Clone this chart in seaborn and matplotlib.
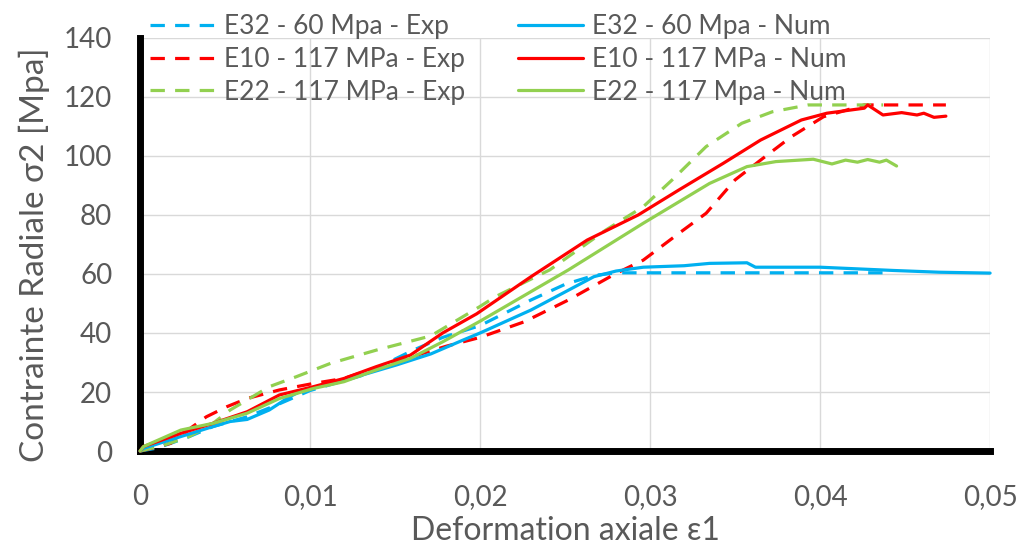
import matplotlib
matplotlib.use("Agg")
import matplotlib.pyplot as plt
import seaborn as sns

# E32 - 60 MPa
e32_exp_x = [0, 0.0010, 0.0018, 0.0029, 0.0043, 0.0063, 0.0080, 0.0100, 0.0130, 0.0160, 0.0178,
             0.0200, 0.0230, 0.0250, 0.0267, 0.0280, 0.0441]
e32_exp_y = [0, 1.0, 2.6, 4.9, 8.3, 11.6, 15.5, 20.5, 25.5, 34.0, 38.5,
             42.5, 51.2, 56.5, 59.5, 60.4, 60.4]
e32_num_x = [0, 0.0002, 0.0024, 0.0043, 0.0053, 0.0063, 0.0076, 0.0088, 0.0096, 0.0112, 0.0131,
             0.0151, 0.0171, 0.0190, 0.0200, 0.0230, 0.0267, 0.0280, 0.0296, 0.0320, 0.0335,
             0.0357, 0.0362, 0.0400, 0.0443, 0.0470, 0.0500]
e32_num_y = [0, 0.9, 4.9, 8.3, 10.0, 10.7, 13.9, 18.4, 20.7, 22.9, 25.8,
             29.2, 32.9, 37.6, 40.0, 47.8, 59.1, 61.0, 62.3, 62.8, 63.6,
             63.8, 62.3, 62.3, 61.2, 60.6, 60.3]

# E10 - 117 MPa
e10_exp_x = [0, 0.0018, 0.0031, 0.0039, 0.0051, 0.0063, 0.0082, 0.0102, 0.0120, 0.0140, 0.0163,
             0.0180, 0.0200, 0.0226, 0.0252, 0.0280, 0.0296, 0.0317, 0.0333, 0.0350, 0.0365,
             0.0383, 0.0402, 0.0426, 0.0474]
e10_exp_y = [0, 2.6, 8.3, 11.6, 15.0, 17.8, 20.7, 22.9, 24.6, 28.5, 32.5,
             35.5, 38.5, 43.8, 51.2, 60.2, 64.7, 73.8, 80.6, 91.9, 98.6,
             106.5, 113.3, 117.3, 117.3]
e10_num_x = [0, 0.0002, 0.0024, 0.0043, 0.0063, 0.0082, 0.0102, 0.0120, 0.0139, 0.0159, 0.0178,
             0.0198, 0.0230, 0.0263, 0.0293, 0.0317, 0.0343, 0.0365, 0.0389, 0.0404, 0.0426,
             0.0428, 0.0437, 0.0448, 0.0457, 0.0461, 0.0467, 0.0474]
e10_num_y = [0, 1.5, 6.0, 9.4, 13.3, 19.0, 21.8, 24.6, 28.6, 32.5, 40.0,
             46.5, 59.1, 71.5, 80.0, 88.5, 97.5, 105.4, 112.2, 114.5, 116.2,
             117.3, 113.9, 114.7, 113.9, 114.5, 113.1, 113.5]

# E22 - 117 MPa
e22_exp_x = [0, 0.0014, 0.0029, 0.0043, 0.0053, 0.0063, 0.0076, 0.0092, 0.0112, 0.0139, 0.0171,
             0.0200, 0.0209, 0.0241, 0.0274, 0.0296, 0.0313, 0.0333, 0.0354, 0.0372, 0.0393,
             0.0437]
e22_exp_y = [0, 2.0, 4.9, 9.4, 13.9, 17.3, 21.8, 25.2, 29.7, 34.2, 39.0,
             49.0, 52.3, 61.4, 74.9, 82.8, 91.9, 103.2, 111.1, 115.0, 117.3,
             117.3]
e22_num_x = [0, 0.0002, 0.0024, 0.0043, 0.0063, 0.0082, 0.0102, 0.0120, 0.0139, 0.0159, 0.0178,
             0.0200, 0.0252, 0.0296, 0.0335, 0.0357, 0.0374, 0.0396, 0.0407, 0.0415, 0.0422,
             0.0428, 0.0435, 0.0439, 0.0445]
e22_num_y = [0, 1.5, 7.1, 9.4, 12.8, 17.8, 21.2, 23.5, 27.5, 31.4, 37.0,
             44.0, 61.4, 77.2, 90.7, 96.4, 98.1, 98.9, 97.3, 98.6, 97.9,
             98.8, 97.9, 98.6, 96.6]

x_ticks = [0, 0.01, 0.02, 0.03, 0.04, 0.05]
x_tick_labels = ["0", "0,01", "0,02", "0,03", "0,04", "0,05"]
y_ticks = [0, 20, 40, 60, 80, 100, 120, 140]

BLUE, RED, GREEN = "#00b0f0", "#ff0000", "#92d050"
TEXT = "#595959"

sns.set_theme(style="white")
plt.rcParams["font.family"] = ["Lato", "DejaVu Sans"]

fig = plt.figure(figsize=(10.26, 5.48), dpi=100)
ax = fig.add_axes([0.1365, 0.177, 0.8285, 0.7537])

series = [
    (e32_exp_x, e32_exp_y, BLUE, True, "E32 - 60 Mpa - Exp"),
    (e10_exp_x, e10_exp_y, RED, True, "E10 - 117 MPa - Exp"),
    (e22_exp_x, e22_exp_y, GREEN, True, "E22 - 117 MPa - Exp"),
    (e32_num_x, e32_num_y, BLUE, False, "E32 - 60 Mpa - Num"),
    (e10_num_x, e10_num_y, RED, False, "E10 - 117 MPa - Num"),
    (e22_num_x, e22_num_y, GREEN, False, "E22 - 117 Mpa - Num"),
]
for xs, ys, col, dashed, lab in series:
    sns.lineplot(x=xs, y=ys, ax=ax, color=col, lw=2.3, label=lab,
                 sort=False, estimator=None, zorder=3)
    ln = ax.lines[-1]
    ln.set_clip_on(False)
    if dashed:
        ln.set_dashes([4.5, 3.2])

ax.set_xlim(0, 0.05)
ax.set_ylim(0, 140)
ax.set_xticks(x_ticks)
ax.set_xticklabels(x_tick_labels)
ax.set_yticks(y_ticks)
ax.grid(True, color="#d9d9d9", lw=1)
ax.set_axisbelow(True)
for s in ["top", "right"]:
    ax.spines[s].set_visible(False)
for s in ["left", "bottom"]:
    ax.spines[s].set_color("black")
    ax.spines[s].set_linewidth(5)
ax.tick_params(axis="both", length=0, labelsize=20, labelcolor=TEXT)
ax.tick_params(axis="x", pad=24)
ax.tick_params(axis="y", pad=20)

ax.set_xlabel("Deformation axiale ε1", fontsize=23, color=TEXT, labelpad=4)
ax.set_ylabel("Contrainte Radiale σ2 [Mpa]", fontsize=24, color=TEXT, labelpad=10)
ax.yaxis.label.set_y(0.475)

ax.legend(loc="upper left", bbox_to_anchor=(0.136, 0.994), bbox_transform=fig.transFigure,
          ncol=2, frameon=False, fontsize=19, labelcolor=TEXT, handlelength=2.45,
          handletextpad=0.35, columnspacing=2.0, labelspacing=0.3, borderaxespad=0)

fig.savefig("out.png", dpi=100)
